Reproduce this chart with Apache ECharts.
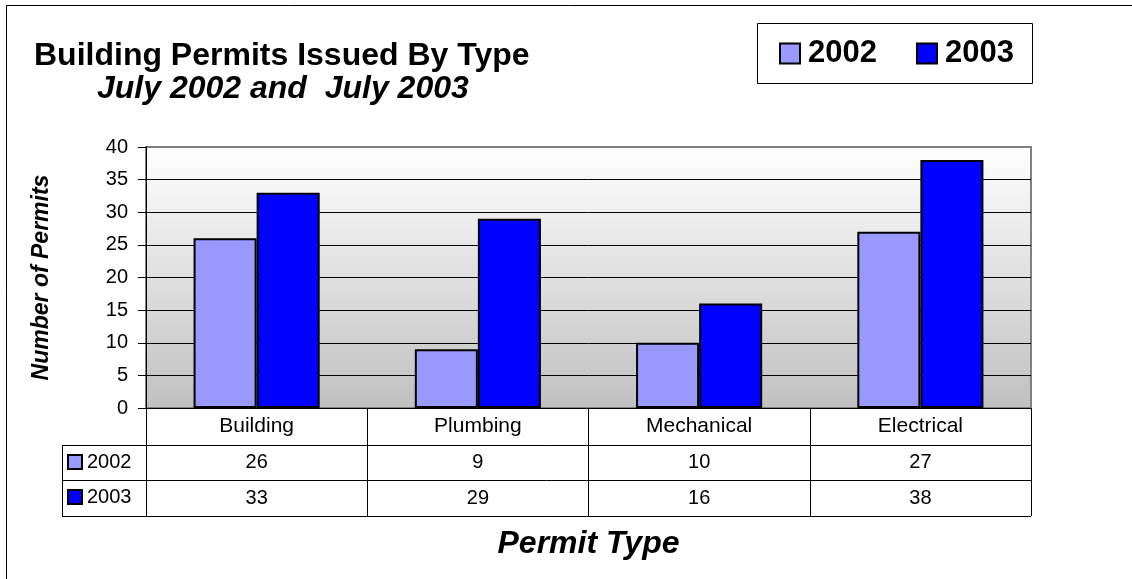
<!DOCTYPE html>
<html><head><meta charset="utf-8">
<script src="https://cdn.jsdelivr.net/npm/echarts@6/dist/echarts.min.js"></script>
<style>html,body{margin:0;padding:0;background:#fff}#c{width:1132px;height:579px}</style>
</head><body><div id="c"></div>
<script>
const categories = ['Building', 'Plumbing', 'Mechanical', 'Electrical'];
const values2002 = [26, 9, 10, 27];
const values2003 = [33, 29, 16, 38];
const seriesNames = ['2002', '2003'];
const yMin = 0, yMax = 40, yInterval = 5;

const FONT = '"Liberation Sans", Arial, sans-serif';
const GL = 146, GT = 147, GW = 885, GH = 261;
const tableBottom = 516, row1 = 445, row2 = 480, keyLeft = 62;

const chart = echarts.init(document.getElementById('c'), null, {renderer: 'canvas'});

const splitColors = [];
for (let v = yMin; v <= yMax; v += yInterval) splitColors.push(v === yMax ? '#808080' : '#000');

const option = {
  animation: false,
  textStyle: {fontFamily: FONT, color: '#000'},
  title: [
    {text: 'Building Permits Issued By Type', left: 34, top: 40, padding: 0,
     textStyle: {fontSize: 32, fontWeight: 'bold', color: '#000', fontFamily: FONT}},
    {text: 'July 2002 and  July 2003', left: 97, top: 73, padding: 0,
     textStyle: {fontSize: 32, fontWeight: 'bold', fontStyle: 'italic', color: '#000', fontFamily: FONT}}
  ],
  legend: [
    {data: seriesNames, left: 779, top: 38, padding: 0, itemWidth: 20, itemHeight: 20, itemGap: 39,
     icon: 'rect', selectedMode: false,
     itemStyle: {borderColor: '#000', borderWidth: 2},
     textStyle: {fontSize: 31, fontWeight: 'bold', color: '#000', fontFamily: FONT, padding: [0, 0, 0, 3]}},
    {data: seriesNames, orient: 'vertical', left: 67, top: 452, padding: 0, itemWidth: 14, itemHeight: 14, itemGap: 15,
     icon: 'rect', selectedMode: false,
     itemStyle: {borderColor: '#000', borderWidth: 2},
     textStyle: {fontSize: 20, lineHeight: 20, color: '#000', fontFamily: FONT}}
  ],
  grid: {
    left: GL, top: GT, width: GW, height: GH, outerBoundsMode: 'none',
    show: true,
    backgroundColor: new echarts.graphic.LinearGradient(0, 0, 0, 1, [
      {offset: 0, color: '#ffffff'}, {offset: 1, color: '#c0c0c0'}]),
    borderColor: '#808080', borderWidth: 2
  },
  xAxis: {
    type: 'category', data: categories,
    axisLine: {show: true, lineStyle: {color: '#000', width: 1}},
    axisTick: {show: true, length: tableBottom - (GT + GH), lineStyle: {color: '#000', width: 1}},
    axisLabel: {
      margin: 0, interval: 0, color: '#000',
      formatter: (v, i) => `{h|${v}}\n{a|${values2002[i]}}\n{b|${values2003[i]}}`,
      rich: {
        h: {fontSize: 21, lineHeight: 37, fontFamily: FONT, color: '#000'},
        a: {fontSize: 20, lineHeight: 35, fontFamily: FONT, color: '#000'},
        b: {fontSize: 20, lineHeight: 36, fontFamily: FONT, color: '#000'}
      }
    },
    name: 'Permit Type', nameLocation: 'middle', nameGap: 120,
    nameTextStyle: {fontSize: 32, fontWeight: 'bold', fontStyle: 'italic', color: '#000', fontFamily: FONT}
  },
  yAxis: {
    type: 'value', min: yMin, max: yMax, interval: yInterval,
    axisLine: {show: true, lineStyle: {color: '#000', width: 1}},
    axisTick: {show: true, length: 8, lineStyle: {color: '#000'}},
    axisLabel: {fontSize: 20, margin: 18, color: '#000', fontFamily: FONT},
    splitLine: {show: true, lineStyle: {color: splitColors, width: 1}},
    name: 'Number of Permits', nameLocation: 'middle', nameGap: 93, nameRotate: 90,
    nameTextStyle: {fontSize: 23, fontWeight: 'bold', fontStyle: 'italic', color: '#000', fontFamily: FONT}
  },
  series: [
    {name: seriesNames[0], type: 'bar', data: values2002, barGap: '0%', barCategoryGap: '43%',
     itemStyle: {color: '#9999ff', borderColor: '#000', borderWidth: 2}},
    {name: seriesNames[1], type: 'bar', data: values2003, barGap: '0%', barCategoryGap: '43%',
     itemStyle: {color: '#0000ff', borderColor: '#000', borderWidth: 2}}
  ],
  graphic: [
    {type: 'rect', shape: {x: 6.5, y: 5.5, width: 1200, height: 700}, style: {fill: 'none', stroke: '#000', lineWidth: 1}, silent: true},
    {type: 'rect', shape: {x: 757.5, y: 23.5, width: 275, height: 60}, style: {fill: 'none', stroke: '#000', lineWidth: 1}, silent: true},
    {type: 'line', shape: {x1: keyLeft, y1: row1 + 0.5, x2: GL + GW, y2: row1 + 0.5}, style: {stroke: '#000', lineWidth: 1}, silent: true},
    {type: 'line', shape: {x1: keyLeft, y1: row2 + 0.5, x2: GL + GW, y2: row2 + 0.5}, style: {stroke: '#000', lineWidth: 1}, silent: true},
    {type: 'line', shape: {x1: keyLeft, y1: tableBottom + 0.5, x2: GL + GW, y2: tableBottom + 0.5}, style: {stroke: '#000', lineWidth: 1}, silent: true},
    {type: 'line', shape: {x1: keyLeft + 0.5, y1: row1, x2: keyLeft + 0.5, y2: tableBottom + 1}, style: {stroke: '#000', lineWidth: 1}, silent: true}
  ]
};
chart.setOption(option);
</script>
</body></html>
